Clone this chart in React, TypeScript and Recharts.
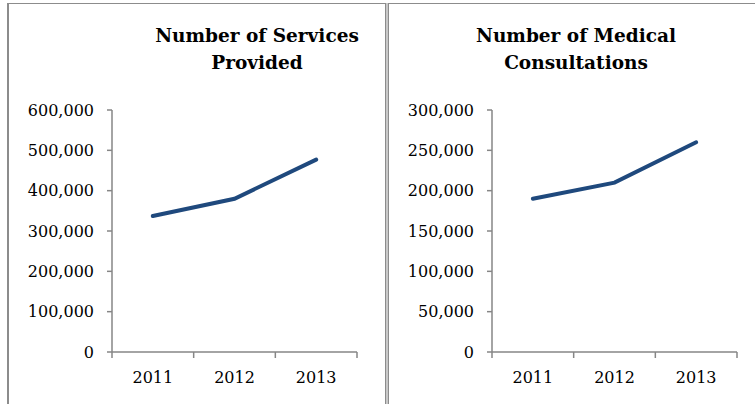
import { LineChart, Line, XAxis, YAxis } from 'recharts'

const years = ['2011', '2012', '2013']
const servicesProvided = [337000, 380000, 477000]
const medicalConsultations = [190000, 210000, 260000]
const servicesTicks = [0, 100000, 200000, 300000, 400000, 500000, 600000]
const consultTicks = [0, 50000, 100000, 150000, 200000, 250000, 300000]

const axisGray = '#868686'
const lineBlue = '#1f497d'
const serif = '"DejaVu Serif", serif'

const fmt = (v: number) => (v === 0 ? '0' : v.toLocaleString('en-US'))

// ticks at category borders, labels in the middle of each band
function YearTick(props: any) {
  const { x, y, payload } = props
  const v = payload.value as number
  if (Number.isInteger(v)) {
    return <line x1={x} x2={x} y1={y - 8} y2={y - 2} stroke={axisGray} strokeWidth={1.5} />
  }
  return (
    <text x={x} y={y + 23} textAnchor="middle" fontFamily={serif} fontSize={16} fill="#000">
      {years[Math.floor(v)]}
    </text>
  )
}

function Panel({ values, ticks, max, title, left, titleX }: { values: number[]; ticks: number[]; max: number; title: string[]; left: number; titleX: number }) {
  const data = years.map((y, i) => ({ x: i + 0.5, year: y, value: values[i] }))
  return (
    <div style={{ position: 'absolute', left, top: 0, width: 370, height: 404 }}>
      <div
        style={{
          position: 'absolute',
          left: titleX - 150,
          top: 22,
          width: 300,
          textAlign: 'center',
          fontFamily: serif,
          fontWeight: 'bold',
          fontSize: 18.5,
          lineHeight: '27px',
          color: '#000',
        }}
      >
        {title.map((t) => (
          <div key={t}>{t}</div>
        ))}
      </div>
      <LineChart width={370} height={404} data={data} margin={{ top: 110, right: 21, bottom: 0, left: 0 }} style={{ position: 'absolute', left: 0, top: 0 }}>
        <XAxis
          dataKey="x"
          type="number"
          domain={[0, 3]}
          ticks={[0, 0.5, 1, 1.5, 2, 2.5, 3]}
          axisLine={{ stroke: axisGray, strokeWidth: 1.5 }}
          tickLine={false}
          tick={<YearTick />}
          interval={0}
          height={52}
        />
        <YAxis
          domain={[0, max]}
          ticks={ticks}
          tickFormatter={fmt}
          axisLine={{ stroke: axisGray, strokeWidth: 1.5 }}
          tickLine={{ stroke: axisGray, strokeWidth: 1.5 }}
          tickSize={5}
          tickMargin={13}
          width={104}
          tick={{ fontFamily: serif, fontSize: 16, fill: '#000' }}
        />
        <Line dataKey="value" stroke={lineBlue} strokeWidth={4} dot={false} isAnimationActive={false} strokeLinecap="round" />
      </LineChart>
    </div>
  )
}

export default function App() {
  return (
    <div style={{ position: 'absolute', left: 0, top: 0, width: 755, height: 404, background: '#fff', overflow: 'hidden' }}>
      <div style={{ position: 'absolute', left: 7, top: 3, width: 748, height: 1, background: '#8c8c8c' }} />
      <div style={{ position: 'absolute', left: 7, top: 3, width: 2, height: 401, background: '#8c8c8c' }} />
      <div style={{ position: 'absolute', left: 385, top: 3, width: 1, height: 401, background: '#8c8c8c' }} />
      <div style={{ position: 'absolute', left: 386, top: 3, width: 2, height: 401, background: '#c8c8c8' }} />
      <div style={{ position: 'absolute', left: 388, top: 3, width: 1, height: 401, background: '#8c8c8c' }} />
      <Panel values={servicesProvided} ticks={servicesTicks} max={600000} title={['Number of Services', 'Provided']} left={8} titleX={249} />
      <Panel values={medicalConsultations} ticks={consultTicks} max={300000} title={['Number of Medical', 'Consultations']} left={388} titleX={188} />
    </div>
  )
}
